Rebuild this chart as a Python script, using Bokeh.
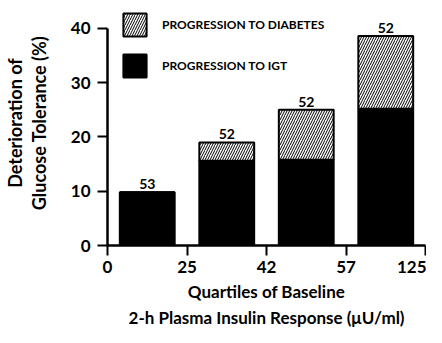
from bokeh.plotting import figure
from bokeh.models import (Range1d, FixedTicker, LabelSet, ColumnDataSource,
                          Legend, LegendItem, Title)
from bokeh.core.properties import value
from bokeh.embed import file_html
from bokeh.resources import INLINE

# Data
bounds = ["0", "25", "42", "57", "125"]          # quartile boundaries (uU/ml)
igt = [9.8, 15.6, 15.8, 25.2]                     # progression to IGT (%)
diabetes = [0.0, 3.4, 9.2, 13.4]                  # progression to diabetes (%)
n_subjects = [53, 52, 52, 52]
x_title = ["Quartiles of Baseline", "2-h Plasma Insulin Response (\u03bcU/ml)"]
y_title = "Deterioration of\nGlucose Tolerance (%)"

xs = [i + 0.5 for i in range(len(igt))]
total = [a + b for a, b in zip(igt, diabetes)]

src = ColumnDataSource(dict(
    x=xs, igt=igt, total=total, n=[str(v) for v in n_subjects]
))

FONT = "Lato"

p = figure(width=426, height=327,
           x_range=Range1d(0, 4), y_range=Range1d(0, 45.16),
           output_backend="svg", toolbar_location=None,
           min_border_left=106, min_border_right=1,
           min_border_top=0, min_border_bottom=82)
p.xgrid.visible = False
p.ygrid.visible = False
p.outline_line_color = None
p.background_fill_color = "white"
p.border_fill_color = "white"

r_igt = p.vbar(x="x", bottom=0, top="igt", width=0.69, source=src,
               fill_color="black", line_color="black", line_width=2)
r_dia = p.vbar(x="x", bottom="igt", top="total", width=0.69, source=src,
               fill_color="white", line_color="black", line_width=2,
               hatch_pattern="/", hatch_color="black", hatch_scale=5,
               hatch_weight=1)

labels = LabelSet(x="x", y="total", text="n", source=src, y_offset=3,
                  text_align="center", text_baseline="bottom",
                  text_font=value(FONT), text_font_size=value("14px"),
                  text_font_style=value("bold"), text_color=value("black"))
p.add_layout(labels)

legend = Legend(items=[
    LegendItem(label="PROGRESSION TO DIABETES", renderers=[r_dia]),
    LegendItem(label="PROGRESSION TO IGT", renderers=[r_igt]),
], location=(13, 165), glyph_width=29, glyph_height=29, spacing=12,
    padding=0, margin=0, label_standoff=13,
    label_text_font=FONT, label_text_font_size="12px",
    label_text_font_style="bold", label_text_color="black",
    border_line_color=None, background_fill_alpha=0)
p.add_layout(legend)

# x axis
xa = p.xaxis[0]
xa.ticker = FixedTicker(ticks=list(range(len(bounds))))
xa.major_label_overrides = {i: b for i, b in enumerate(bounds)}
xa.bounds = (0, 4)
xa.major_label_standoff = 5

# x axis title, two centred lines below the axis
for line, so in zip(x_title, [6, 0]):
    p.add_layout(Title(text=line, align="center", standoff=so, offset=0,
                       text_font=FONT, text_font_size="17px",
                       text_font_style="bold", text_color="black"), "below")

# y axis
ya = p.yaxis[0]
ya.ticker = FixedTicker(ticks=[0, 10, 20, 30, 40])
ya.bounds = (0, 40)
ya.axis_label = y_title
ya.major_label_standoff = 7
ya.axis_label_standoff = 18

for ax in (xa, ya):
    ax.axis_line_width = 2.5
    ax.axis_line_color = "black"
    ax.major_tick_line_width = 2
    ax.major_tick_line_color = "black"
    ax.major_tick_in = 0
    ax.major_tick_out = 10
    ax.minor_tick_line_color = None
    ax.major_label_text_font = FONT
    ax.major_label_text_font_size = "17px"
    ax.major_label_text_font_style = "bold"
    ax.major_label_text_color = "black"
    ax.axis_label_text_font = FONT
    ax.axis_label_text_font_size = "18px"
    ax.axis_label_text_font_style = "bold"
    ax.axis_label_text_color = "black"
    ax.axis_label_text_line_height = 1.1

open("out.html", "w").write(file_html(p, INLINE))
